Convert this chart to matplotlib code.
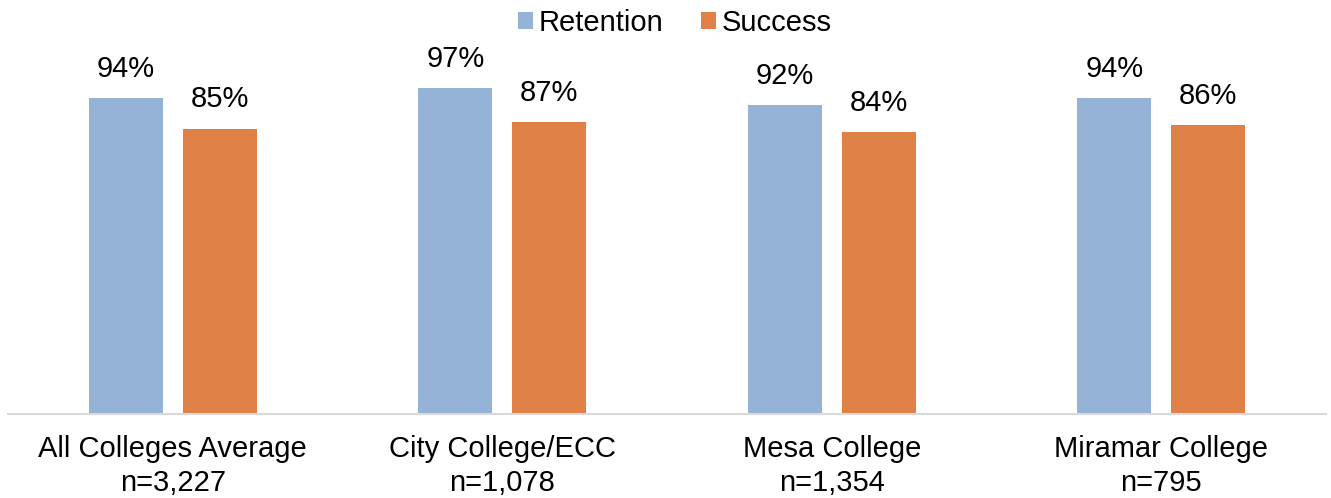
import matplotlib.pyplot as plt
import numpy as np

plt.rcParams['font.family'] = ['Liberation Sans', 'DejaVu Sans']

colleges = ['All Colleges Average', 'City College/ECC', 'Mesa College', 'Miramar College']
counts = ['n=3,227', 'n=1,078', 'n=1,354', 'n=795']
retention = [94, 97, 92, 94]
success = [85, 87, 84, 86]

blue = '#95B3D7'
orange = '#DF8047'

fig = plt.figure(figsize=(13.31, 4.98), dpi=100)
ax = fig.add_axes([8 / 1331, 84 / 498, 1318 / 1331, 386 / 498])

x = np.arange(len(colleges))
w = 0.224
off = 0.1425
b1 = ax.bar(x - off, retention, w, color=blue, label='Retention')
b2 = ax.bar(x + off, success, w, color=orange, label='Success')

for bars, vals in ((b1, retention), (b2, success)):
    for bar, v in zip(bars, vals):
        ax.annotate(f'{v}%', (bar.get_x() + bar.get_width() / 2, v),
                    xytext=(0, 11), textcoords='offset points',
                    ha='center', va='bottom', fontsize=21)

ax.set_xlim(-0.5, 3.5)
ax.set_ylim(0, 115)
ax.set_xticks(x)
ax.set_xticklabels([f'{c}\n{n}' for c, n in zip(colleges, counts)], fontsize=21, linespacing=1.3)
ax.tick_params(axis='x', length=0, pad=15)
ax.set_yticks([])
for s in ['top', 'left', 'right']:
    ax.spines[s].set_visible(False)
ax.spines['bottom'].set_color('#D9D9D9')
ax.spines['bottom'].set_linewidth(1.5)

fig.legend(loc='center', bbox_to_anchor=(675 / 1331, 1 - 23 / 498), ncol=2, frameon=False,
           fontsize=21, handlelength=0.5, handleheight=0.5, handletextpad=0.2,
           columnspacing=1.3, borderpad=0)

fig.savefig('out.png', dpi=100)
